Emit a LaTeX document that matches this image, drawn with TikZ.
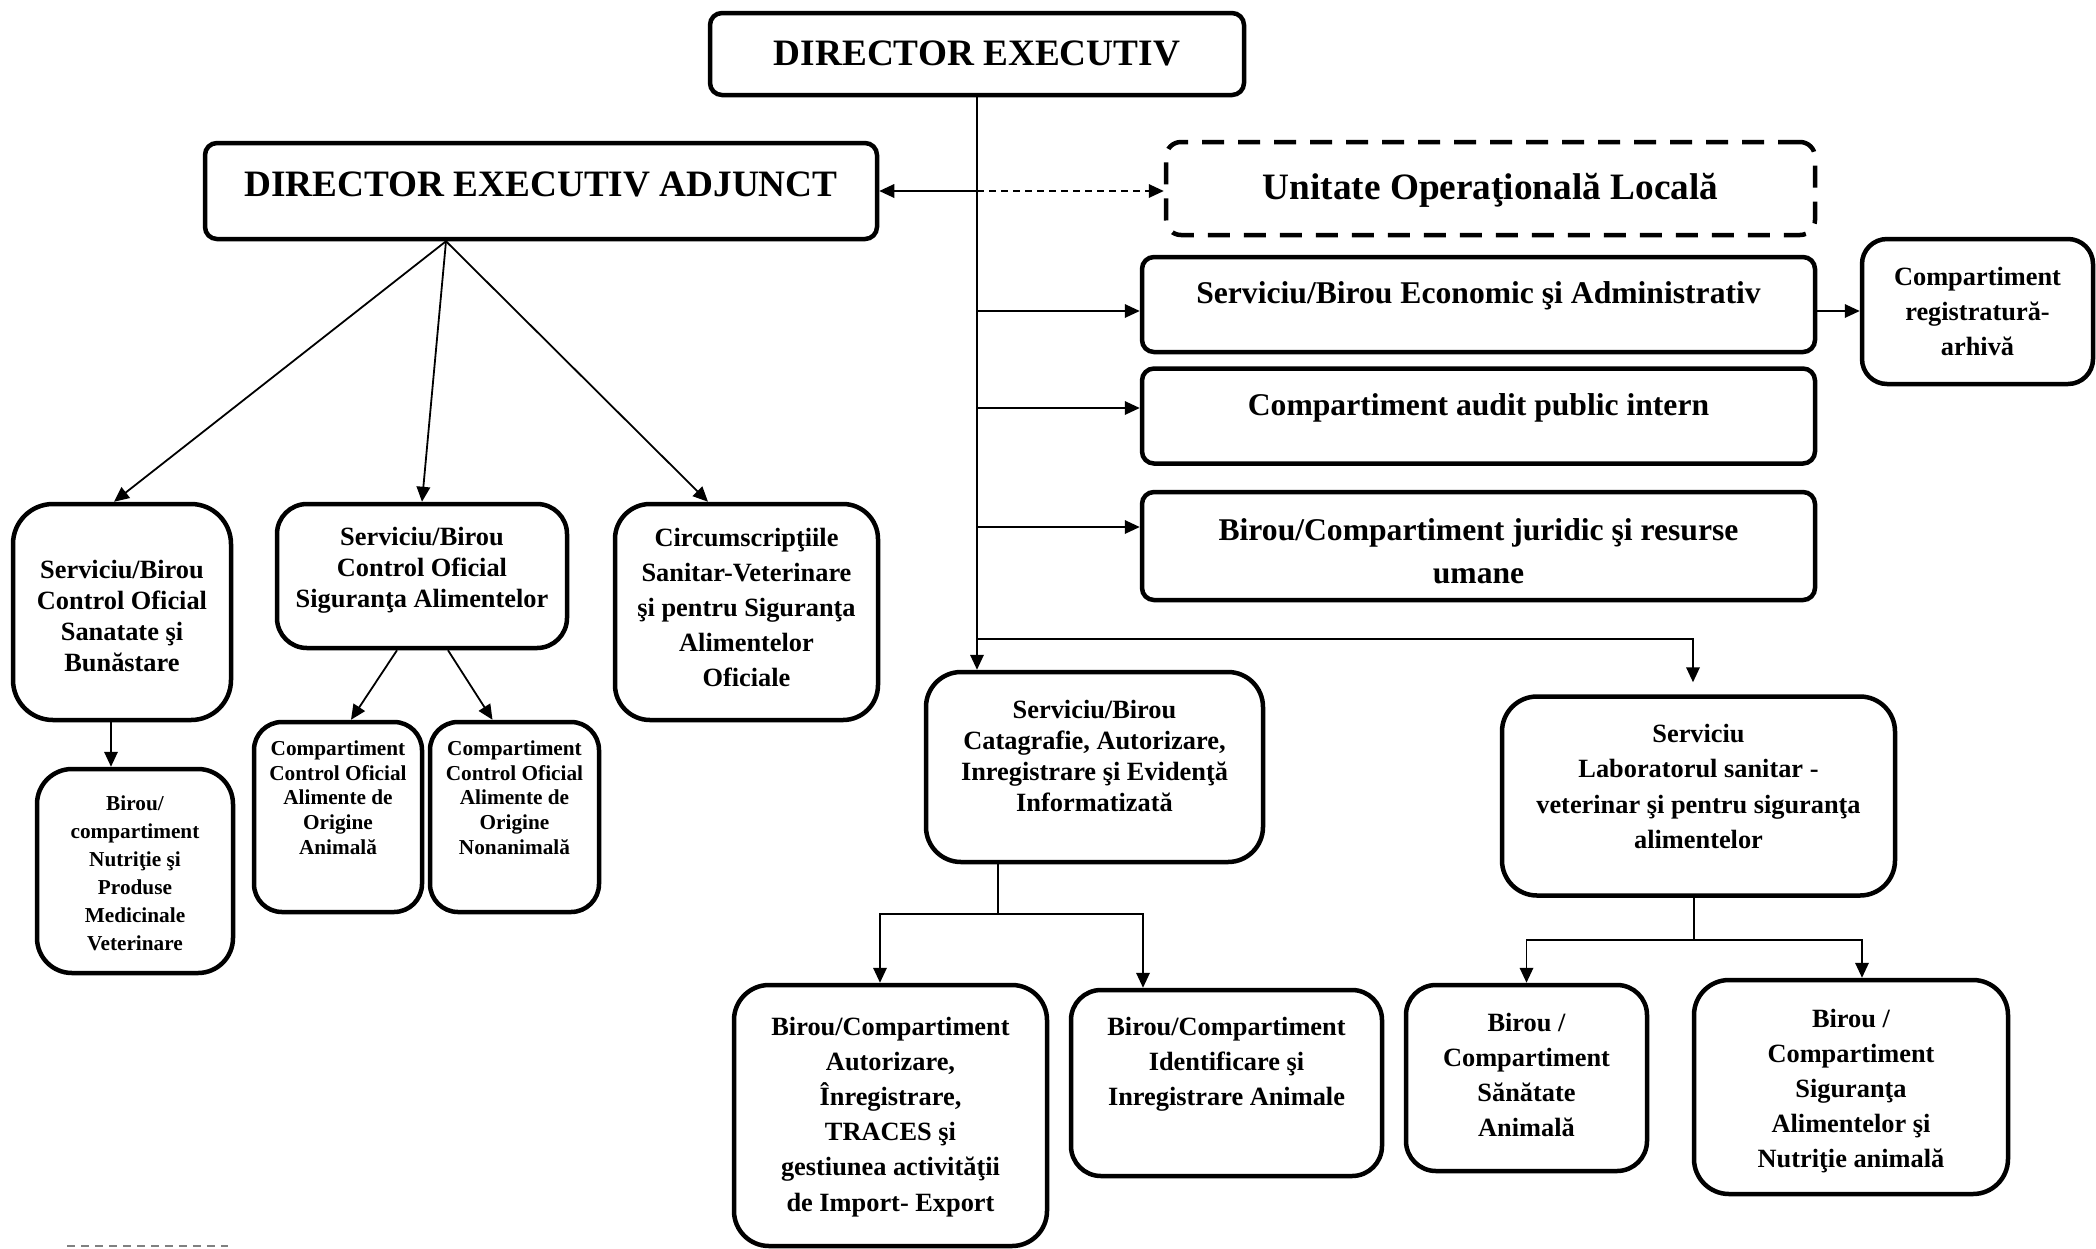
\documentclass[tikz,border=0pt]{standalone}
\usepackage{fontspec}
\setmainfont{Liberation Serif}
\usetikzlibrary{arrows.meta}

\newcommand{\boxtext}[4]{\parbox[c][#2][t]{#1}{\centering\vspace*{#3}\vspace*{.4mm}#4}}

\begin{document}
\begin{tikzpicture}[x=0.1mm, y=-0.1mm,
  box/.style={draw, line width=.45mm, inner sep=0pt},
  fbig/.style={font=\fontsize{10.6}{12}\selectfont\bfseries},
  fmid/.style={font=\fontsize{9}{12.2}\selectfont\bfseries},
  fsmall/.style={font=\fontsize{7.5}{10}\selectfont\bfseries},
  fsmallt/.style={font=\fontsize{7.5}{8.8}\selectfont\bfseries},
  ftiny/.style={font=\fontsize{6.05}{7}\selectfont\bfseries},
  ftinyb/.style={font=\fontsize{6.05}{7.95}\selectfont\bfseries},
  link/.style={line width=.18mm},
  arr/.style={line width=.18mm, -{Triangle[length=1.5mm,width=1.35mm]}}]
\useasboundingbox (0,0) rectangle (2096,1248);

\node[box, fbig, rounded corners=1.2mm] (de) at (977,54) {\boxtext{53.4mm}{8.2mm}{2.4mm}{DIRECTOR EXECUTIV}};
\node[box, fbig, rounded corners=1.2mm] (dea) at (541,191) {\boxtext{67.2mm}{9.6mm}{2.5mm}{DIRECTOR EXECUTIV ADJUNCT}};
\node[box, fbig, rounded corners=1.5mm, dash pattern=on 2.2mm off 1.4mm] (uol) at (1490.5,188.5) {\boxtext{64.9mm}{9.3mm}{2.7mm}{Unitate Operaţională Locală}};
\node[box, fmid, rounded corners=1.2mm] (sea) at (1478.5,304.5) {\boxtext{67.3mm}{9.5mm}{2.1mm}{Serviciu/Birou Economic şi Administrativ}};
\node[box, fmid, rounded corners=1.2mm] (capi) at (1478.5,416) {\boxtext{67.3mm}{9.5mm}{2.1mm}{Compartiment audit public intern}};
\node[box, fmid, rounded corners=1.2mm] (jur) at (1478.5,546) {\boxtext{67.3mm}{10.8mm}{2.3mm}{Birou/Compartiment juridic şi resurse\\ umane}};
\node[box, fsmall, rounded corners=2.5mm] (cra) at (1977.5,311.5) {\boxtext{23.1mm}{14.5mm}{2.4mm}{Compartiment\\ registratură-\\ arhivă}};

% left branch
\node[box, fsmallt, rounded corners=4mm] (cos) at (122,612) {\boxtext{21.8mm}{21.6mm}{5.2mm}{Serviciu/Birou\\ Control Oficial\\ Sanatate şi\\ Bunăstare}};
\node[box, ftinyb, rounded corners=3.5mm] (nut) at (135,871) {\boxtext{19.6mm}{20.4mm}{2.3mm}{Birou/\\ compartiment\\ Nutriţie şi\\ Produse\\ Medicinale\\ Veterinare}};
\node[box, fsmallt, rounded corners=3mm] (csa) at (422,576) {\boxtext{29mm}{14.4mm}{1.9mm}{Serviciu/Birou\\ Control Oficial\\ Siguranţa Alimentelor}};
\node[box, ftiny, rounded corners=2.8mm] (coa) at (338,817) {\boxtext{16.8mm}{19mm}{1.5mm}{Compartiment\\ Control Oficial\\ Alimente de\\ Origine\\ Animală}};
\node[box, ftiny, rounded corners=2.8mm] (con) at (514.5,817) {\boxtext{16.9mm}{19mm}{1.5mm}{Compartiment\\ Control Oficial\\ Alimente de\\ Origine\\ Nonanimală}};
\node[box, fsmall, rounded corners=3.5mm] (csv) at (746.5,612) {\boxtext{26.3mm}{21.6mm}{2mm}{Circumscripţiile\\ Sanitar-Veterinare\\ şi pentru Siguranţa\\ Alimentelor\\ Oficiale}};

% lower branch
\node[box, fsmallt, rounded corners=3.5mm] (cat) at (1094.5,767) {\boxtext{33.7mm}{19mm}{2.4mm}{Serviciu/Birou\\ Catagrafie, Autorizare,\\ Inregistrare şi Evidenţă\\ Informatizată}};
\node[box, fsmall, rounded corners=3.5mm] (lab) at (1698.5,796) {\boxtext{39.3mm}{19.9mm}{2.4mm}{Serviciu\\ Laboratorul sanitar -\\ veterinar şi pentru siguranţa\\ alimentelor}};
\node[box, fsmall, rounded corners=3.5mm] (aut) at (890.5,1115.5) {\boxtext{31.3mm}{26.1mm}{2.8mm}{Birou/Compartiment\\ Autorizare,\\ Înregistrare,\\ TRACES şi\\ gestiunea activităţii\\ de Import- Export}};
\node[box, fsmall, rounded corners=3mm] (ida) at (1226.5,1083) {\boxtext{31.1mm}{18.6mm}{2.3mm}{Birou/Compartiment\\ Identificare şi\\ Inregistrare Animale}};
\node[box, fsmall, rounded corners=3mm] (sa) at (1526.5,1078) {\boxtext{24.1mm}{18.6mm}{2.4mm}{Birou /\\ Compartiment\\ Sănătate\\ Animală}};
\node[box, fsmall, rounded corners=3.5mm] (san) at (1851,1087) {\boxtext{31.4mm}{21.4mm}{2.5mm}{Birou /\\ Compartiment\\ Siguranţa\\ Alimentelor şi\\ Nutriţie animală}};

% trunk
\draw[arr] (de.south) -- (de.south |- cat.north);
\draw[arr] (de.south |- dea.east) -- (dea.east);
\draw[arr, dash pattern=on .7mm off .5mm] (de.south |- dea.east) -- (uol.west |- dea.east);
\coordinate (ps) at ([yshift=-.65mm]sea.west);
\coordinate (pc) at ([yshift=.8mm]capi.west);
\coordinate (pj) at ([yshift=1.9mm]jur.west);
\foreach \p in {ps,pc,pj}
  \draw[arr] (de.south |- \p) -- (\p);
\draw[arr] (ps -| sea.east) -- (ps -| cra.west);
\path (de.south) ++(0,542) coordinate (lj);
\coordinate (lt) at ([xshift=-.55mm]lab.north);
\draw[arr, shorten >=1.2mm] (lj) -| (lt);

% adjunct
\coordinate (df) at ([xshift=-9.5mm]dea.south);
\draw[arr] (df) -- ([xshift=-.8mm]cos.north);
\draw[arr] (df) -- (csa.north);
\draw[arr] (df) -- ([xshift=-3.85mm]csv.north);
\draw[arr] ([xshift=-1.1mm]cos.south) -- ([xshift=-1.1mm]cos.south |- nut.north);
\draw[arr] ([xshift=-2.5mm]csa.south) -- ([xshift=1.3mm]coa.north);
\draw[arr] ([xshift=2.6mm]csa.south) -- ([xshift=-2.2mm]con.north);

% forks
\path (cat.south) ++(-96.5,50) coordinate (cf);
\draw[link] (cat.south -| cf) -- (cf);
\draw[arr] (cf) -| ([xshift=-1.05mm]aut.north);
\draw[arr] (cf) -| ([xshift=-8.35mm]ida.north);
\path (lab.south) ++(-4.5,42) coordinate (lf);
\draw[link] (lab.south -| lf) -- (lf);
\draw[arr] (lf) -| (sa.north);
\draw[arr] (lf) -| ([xshift=1.1mm]san.north);

\draw[gray, line width=.2mm, dash pattern=on .8mm off .6mm] (67,1246) -- (228,1246);
\end{tikzpicture}
\end{document}
